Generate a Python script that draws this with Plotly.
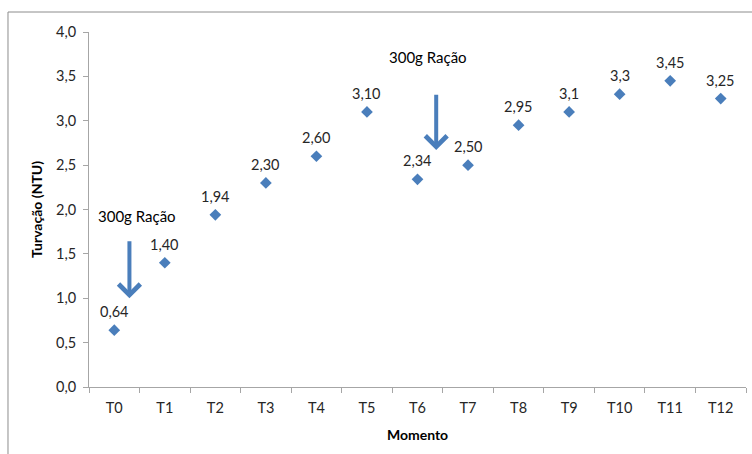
import plotly.graph_objects as go

# Sampling moments and turbidity readings (NTU), as labelled on the chart
momentos = ["T0", "T1", "T2", "T3", "T4", "T5", "T6", "T7", "T8", "T9", "T10", "T11", "T12"]
rotulos = ["0,64", "1,40", "1,94", "2,30", "2,60", "3,10", "2,34", "2,50", "2,95", "3,1", "3,3", "3,45", "3,25"]
turvacao = [float(s.replace(",", ".")) for s in rotulos]

# Feeding events: (x position in category units, arrow tail y, arrow tip y, text y)
alimentacao_x = [0.3, 6.37]
seta_inicio = [1.66, 3.31]
seta_fim = [1.0, 2.67]
texto_x = [0.45, 6.21]
texto_y = [1.93, 3.72]
texto_evento = "300g Ração"

FONT = "Lato, Carlito, Calibri, Noto Sans, sans-serif"
AZUL = "#4A7EBB"
CINZA = "#A6A6A6"

fig = go.Figure()
fig.add_trace(go.Scatter(
    x=momentos,
    y=turvacao,
    mode="markers",
    marker=dict(symbol="diamond", size=9, color=AZUL),
    showlegend=False,
))

# Value labels above each point
for m, v, r in zip(momentos, turvacao, rotulos):
    fig.add_annotation(
        x=m, y=v, text=r, showarrow=False, yanchor="bottom", yshift=8,
        font=dict(family=FONT, size=14.5, color="#262626"),
    )

for xa, y0, y1, xt, yt in zip(alimentacao_x, seta_inicio, seta_fim, texto_x, texto_y):
    fig.add_annotation(
        x=xa, y=y1, ax=xa, ay=y0,
        xref="x", yref="y", axref="x", ayref="y",
        showarrow=True, arrowhead=4, arrowsize=1.05, arrowwidth=4,
        arrowcolor=AZUL, text="",
    )
    fig.add_annotation(
        x=xt, y=yt, xref="x", yref="y", text=texto_evento, showarrow=False,
        font=dict(family=FONT, size=15, color="#000000"),
    )

# Outer chart frame
fig.add_shape(type="rect", xref="paper", yref="paper",
              x0=-0.1233, x1=1.2, y0=-0.4, y1=1.0563,
              line=dict(color="#8C8C8C", width=1), layer="below")

fig.update_layout(
    width=752, height=454,
    margin=dict(l=89, r=6, t=32, b=67),
    paper_bgcolor="white", plot_bgcolor="white",
    separators=",.",
    font=dict(family=FONT, size=14.5, color="#262626"),
)
fig.update_xaxes(
    type="category", range=[-0.5, 12.5],
    showline=True, linecolor=CINZA, linewidth=1,
    ticks="outside", tickson="boundaries", ticklen=5, tickcolor=CINZA,
    ticklabelstandoff=8,
    showgrid=False, zeroline=False,
    title=dict(text="<b>Momento</b>", font=dict(family=FONT, size=14, color="#000000"), standoff=14),
    tickfont=dict(family=FONT, size=14.5, color="#262626"),
)
fig.update_yaxes(
    range=[0, 4], dtick=0.5, tickformat=".1f",
    showline=True, linecolor=CINZA, linewidth=1,
    ticks="outside", ticklen=5, tickcolor=CINZA,
    ticklabelstandoff=4,
    showgrid=False, zeroline=False,
    title=dict(text="<b>Turvação (NTU)</b>", font=dict(family=FONT, size=14, color="#000000"), standoff=10),
    tickfont=dict(family=FONT, size=14.5, color="#262626"),
)

fig.write_html("out.html")
